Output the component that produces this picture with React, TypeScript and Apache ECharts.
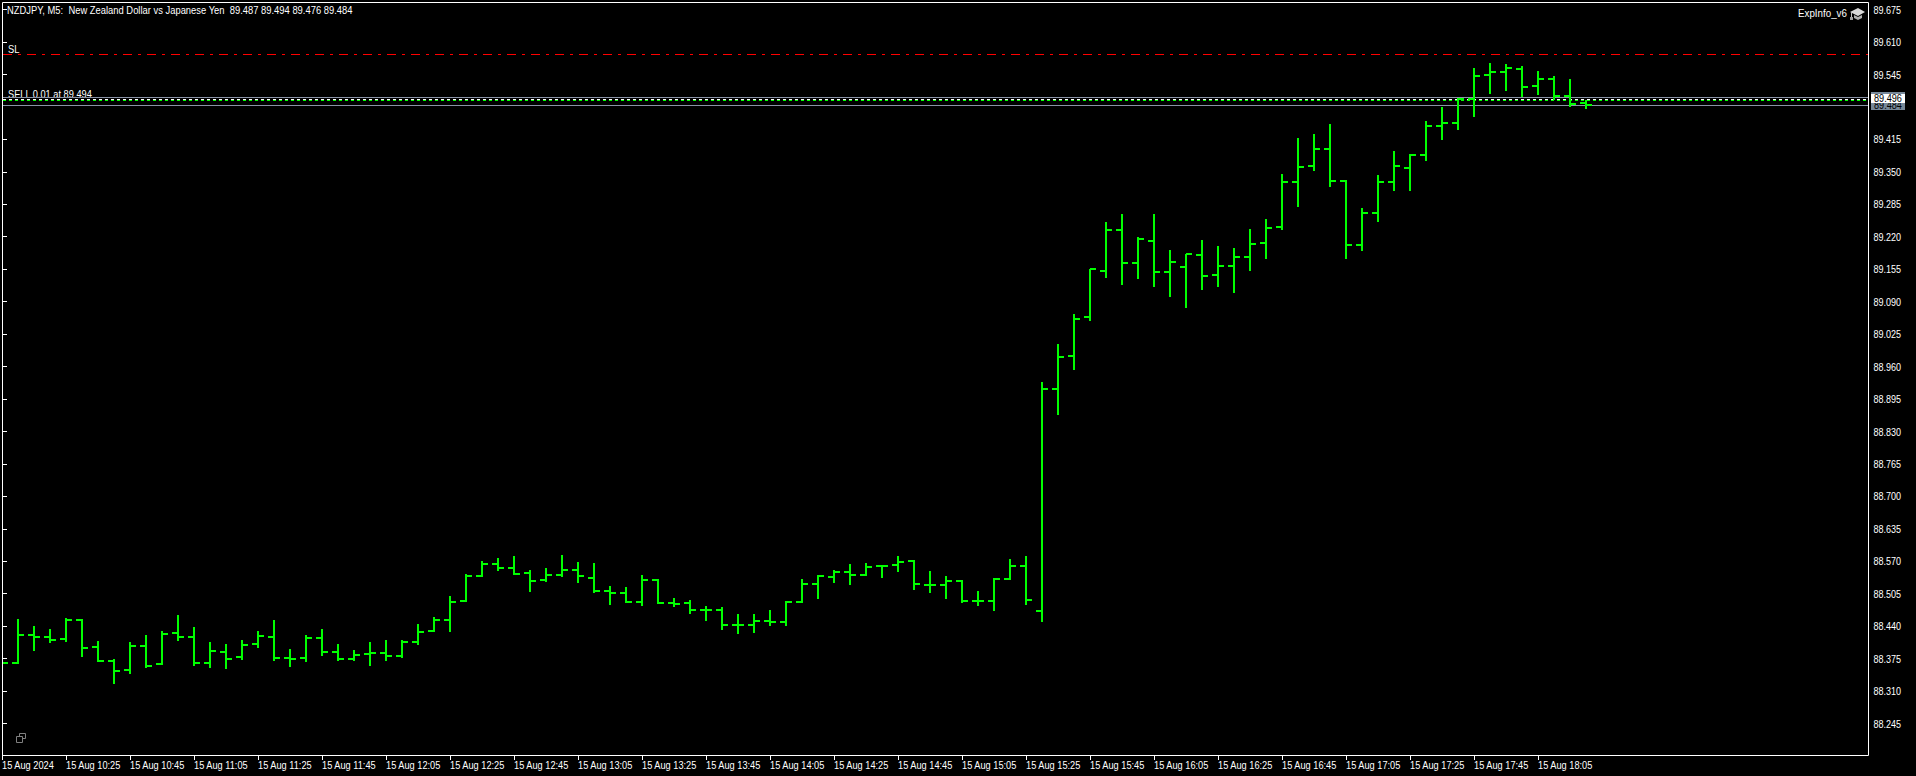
import React, { useEffect, useRef } from "react";
import * as echarts from "echarts";

const opens = [88.366,88.366,88.422,88.418,88.414,88.452,88.398,88.370,88.352,88.400,88.364,88.426,88.418,88.366,88.388,88.378,88.404,88.418,88.376,88.376,88.416,88.388,88.374,88.384,88.386,88.380,88.408,88.430,88.452,88.490,
88.540,88.564,88.556,88.546,88.532,88.542,88.552,88.536,88.510,88.506,88.488,88.532,88.486,88.486,88.472,88.472,88.442,88.442,88.450,88.448,88.488,88.524,88.538,88.548,88.542,88.560,88.562,88.570,88.522,88.522,
88.531,88.490,88.490,88.534,88.560,88.470,88.915,88.981,89.059,89.151,89.233,89.167,89.211,89.149,89.159,89.183,89.143,89.161,89.179,89.207,89.239,89.329,89.362,89.396,89.331,89.203,89.267,89.329,89.357,89.384,
89.442,89.448,89.496,89.544,89.550,89.556,89.522,89.536,89.502,89.487];
const highs = [88.372,88.454,88.440,88.434,88.456,88.454,88.410,88.374,88.408,88.422,88.430,88.462,88.438,88.408,88.404,88.412,88.430,88.452,88.394,88.422,88.434,88.404,88.392,88.408,88.412,88.412,88.444,88.458,88.500,88.544,
88.570,88.576,88.580,88.552,88.556,88.582,88.568,88.566,88.520,88.518,88.542,88.534,88.496,88.492,88.480,88.478,88.464,88.464,88.472,88.490,88.534,88.542,88.552,88.564,88.566,88.562,88.580,88.572,88.550,88.540,
88.532,88.510,88.536,88.575,88.581,88.929,89.005,89.065,89.155,89.249,89.265,89.219,89.265,89.193,89.185,89.213,89.201,89.197,89.235,89.255,89.345,89.418,89.426,89.446,89.333,89.277,89.343,89.392,89.386,89.452,
89.480,89.498,89.558,89.568,89.566,89.562,89.552,89.542,89.536,89.494];
const lows = [88.364,88.364,88.390,88.406,88.408,88.378,88.368,88.324,88.344,88.356,88.362,88.410,88.360,88.356,88.354,88.372,88.396,88.371,88.358,88.368,88.380,88.370,88.370,88.360,88.370,88.376,88.402,88.428,88.428,88.488,
88.538,88.550,88.542,88.508,88.528,88.538,88.526,88.506,88.482,88.486,88.480,88.484,88.478,88.464,88.450,88.432,88.424,88.426,88.440,88.440,88.486,88.494,88.526,88.522,88.540,88.536,88.548,88.512,88.506,88.494,
88.486,88.480,88.470,88.532,88.482,88.448,88.863,88.953,89.051,89.137,89.123,89.135,89.119,89.099,89.077,89.113,89.119,89.107,89.151,89.175,89.233,89.279,89.352,89.319,89.175,89.191,89.249,89.311,89.311,89.372,
89.414,89.434,89.460,89.506,89.512,89.500,89.504,89.494,89.480,89.476];
const closes = [88.366,88.422,88.418,88.412,88.452,88.396,88.370,88.350,88.400,88.360,88.424,88.418,88.366,88.390,88.374,88.402,88.420,88.376,88.374,88.416,88.388,88.374,88.382,88.386,88.380,88.408,88.428,88.452,88.488,88.540,
88.564,88.556,88.544,88.530,88.542,88.552,88.540,88.510,88.506,88.488,88.532,88.486,88.484,88.472,88.472,88.442,88.442,88.450,88.448,88.488,88.524,88.540,88.548,88.542,88.558,88.560,88.568,88.524,88.522,88.530,
88.490,88.490,88.534,88.560,88.492,88.915,88.979,89.055,89.155,89.233,89.167,89.215,89.149,89.169,89.185,89.141,89.161,89.179,89.205,89.237,89.329,89.360,89.396,89.331,89.203,89.267,89.329,89.362,89.384,89.442,
89.448,89.496,89.542,89.550,89.558,89.520,89.536,89.502,89.486,89.484];

const timeLabels = ["15 Aug 2024","15 Aug 10:25","15 Aug 10:45","15 Aug 11:05","15 Aug 11:25","15 Aug 11:45","15 Aug 12:05","15 Aug 12:25","15 Aug 12:45","15 Aug 13:05","15 Aug 13:25","15 Aug 13:45","15 Aug 14:05","15 Aug 14:25","15 Aug 14:45","15 Aug 15:05","15 Aug 15:25","15 Aug 15:45","15 Aug 16:05","15 Aug 16:25","15 Aug 16:45","15 Aug 17:05","15 Aug 17:25","15 Aug 17:45","15 Aug 18:05"];
const timeTicks = [0,4,8,12,16,20,24,28,32,36,40,44,48,52,56,60,64,68,72,76,80,84,88,92,96];
const priceTicks = [88.245,88.31,88.375,88.44,88.505,88.57,88.635,88.7,88.765,88.83,88.895,88.96,89.025,89.09,89.155,89.22,89.285,89.35,89.415,89.545,89.61,89.675];

const slLevel = 89.585;
const sellLevel = 89.494;
const askLevel = 89.4985;
const bidLevel = 89.483;
const bidLabel = "89.484";
const askLabel = "89.496";

const titleText = "NZDJPY, M5:  New Zealand Dollar vs Japanese Yen  89.487 89.494 89.476 89.484";
const FONT = "'Liberation Sans', Arial, sans-serif";
const FS = 11;
const GREEN = "#00ff00";
const LINE_GRAY = "#8a93a6";
const SLATE = "#778899";
const Y_MIN = 88.1819;
const Y_MAX = 89.69;

export default function App() {
  const ref = useRef<HTMLDivElement>(null);
  useEffect(() => {
    const chart = echarts.init(ref.current!, undefined, { renderer: "svg" });
    const bars = opens.map((o, i) => [i, o, highs[i], lows[i], closes[i]]);
    const levels = [
      ["sl", slLevel],
      ["ask", askLevel],
      ["sell", sellLevel],
      ["bid", bidLevel],
    ];
    const renderBar = (_: any, api: any) => {
      const i = api.value(0);
      const x = Math.round(api.coord([i, api.value(1)])[0]);
      const yO = Math.round(api.coord([i, api.value(1)])[1]);
      const yH = Math.round(api.coord([i, api.value(2)])[1]);
      const yL = Math.round(api.coord([i, api.value(3)])[1]);
      const yC = Math.round(api.coord([i, api.value(4)])[1]);
      const style = { fill: GREEN };
      return {
        type: "group",
        children: [
          { type: "rect", shape: { x: x - 1, y: yH, width: 2, height: yL - yH }, style },
          { type: "rect", shape: { x: x - 6, y: yO - 1, width: 6, height: 2 }, style },
          { type: "rect", shape: { x, y: yC - 1, width: 6, height: 2 }, style },
        ],
      };
    };
    const renderLevel = (params: any, api: any) => {
      const kind = levels[params.dataIndex][0];
      const p = api.coord([0, api.value(1)]);
      const y = Math.floor(p[1]) + 0.5;
      const x1 = p[0] + 1;
      const x2 = x1 + 1865;
      const ln = (yy: number, stroke: string, lineDash?: number[], lineDashOffset = 0) => ({
        type: "line",
        shape: { x1, y1: yy, x2, y2: yy },
        style: { stroke, lineWidth: 1, lineDash, lineDashOffset, fill: null },
      });
      if (kind === "sl") return ln(y, "#ff0000", [9, 6, 3, 6]);
      if (kind === "sell")
        return { type: "group", children: [ln(y, "#ffffff", [3, 3]), ln(y + 1, GREEN, [3, 3])] };
      return ln(y, LINE_GRAY);
    };
    const label = (t: string, x: number, y: number, fill: string, scaleX = 0.83) => ({
      type: "text",
      x,
      y,
      scaleX,
      style: { text: t, fill, font: `${FS}px ${FONT}`, textVerticalAlign: "middle", textAlign: "left" },
    });
    const renderBox = (_: any, api: any) => {
      const yB = Math.floor(api.coord([0, bidLevel])[1]);
      const yA = Math.floor(api.coord([0, askLevel])[1]);
      const x = 1871;
      return {
        type: "group",
        children: [
          { type: "rect", shape: { x, y: yB - 13, width: 34, height: 18 }, style: { fill: SLATE } },
          label(bidLabel, x + 3, yB, "#000"),
          { type: "rect", shape: { x, y: yA - 3, width: 34, height: 9 }, style: { fill: "#fff" } },
          label(askLabel, x + 3, yA + 1.5, "#000"),
        ],
      };
    };
    const renderTimeLabel = (params: any, api: any) => {
      const p = api.coord([api.value(0), Y_MIN]);
      return label(timeLabels[params.dataIndex], p[0], p[1] + 10.5, "#fff", 0.84);
    };
    const renderPriceLabel = (params: any, api: any) => {
      const p = api.coord([0, api.value(0)]);
      return label(priceTicks[params.dataIndex].toFixed(3), p[0] + 1871.5, p[1] + 0.3, "#fff", 0.82);
    };
    const text = (t: string, x: number, y: number, scaleX: number) => ({
      type: "text",
      x,
      y,
      scaleX,
      z: 1,
      style: { text: t, fill: "#fff", font: `${FS}px ${FONT}`, textVerticalAlign: "middle" },
    });
    chart.setOption({
      animation: false,
      backgroundColor: "#000",
      textStyle: { fontFamily: FONT },
      grid: { left: 2, top: 2, width: 1866, height: 753, show: false },
      xAxis: {
        type: "value",
        min: 0,
        max: 116.625,
        splitLine: { show: false },
        axisLine: { show: false },
        axisTick: { show: true, length: 5, lineStyle: { color: "#fff", width: 1 }, customValues: timeTicks },
        axisLabel: { show: false },
      },
      yAxis: {
        type: "value",
        position: "right",
        min: Y_MIN,
        max: Y_MAX,
        splitLine: { show: false },
        axisLine: { show: false },
        axisTick: { show: true, length: 5, lineStyle: { color: "#fff", width: 1 }, customValues: priceTicks },
        axisLabel: { show: false },
      },
      graphic: [
        text(titleText, 7, 10, 0.855),
        text("SL", 8, 49, 0.85),
        text("SELL 0.01 at 89.494", 8, 94, 0.84),
        { type: "rect", z: 2, shape: { x: 3, y: 97, width: 200, height: 3 }, style: { fill: "#000" } },
        text("ExpInfo_v6", 1798, 13, 0.89),
        { type: "polygon", z: 2, shape: { points: [[1850, 12], [1858, 8], [1865, 12], [1858, 16]] }, style: { fill: "#d8d8d8" } },
        { type: "polygon", z: 2, shape: { points: [[1854, 15], [1858, 17], [1862, 15], [1862, 18], [1858, 20], [1854, 18]] }, style: { fill: "#b0b0b0" } },
        { type: "rect", z: 2, shape: { x: 1851, y: 12, width: 1, height: 6 }, style: { fill: "#c0c0c0" } },
        { type: "rect", z: 2, shape: { x: 1850, y: 17, width: 3, height: 3 }, style: { fill: "#a0a0a0" } },
        { type: "rect", z: 2, shape: { x: 19.5, y: 733.5, width: 6, height: 5 }, style: { fill: "none", stroke: "#808080", lineWidth: 1 } },
        { type: "rect", z: 3, shape: { x: 16.5, y: 736.5, width: 6, height: 6 }, style: { fill: "#000", stroke: "#808080", lineWidth: 1 } },
        { type: "rect", z: 10, shape: { x: 2.5, y: 2.5, width: 1866, height: 753 }, style: { fill: "none", stroke: "#fff", lineWidth: 1 } },
      ],
      series: [
        {
          type: "custom",
          name: "levels",
          z: 3,
          clip: true,
          coordinateSystem: "cartesian2d",
          data: levels.map((l, i) => [i, l[1]]),
          encode: { x: 0, y: 1 },
          renderItem: renderLevel,
        },
        {
          type: "custom",
          name: "NZDJPY",
          z: 4,
          clip: true,
          coordinateSystem: "cartesian2d",
          data: bars,
          encode: { x: 0, y: [1, 2, 3, 4] },
          renderItem: renderBar,
        },
        {
          type: "custom",
          name: "timeLabels",
          z: 5,
          clip: false,
          coordinateSystem: "cartesian2d",
          data: timeTicks.map((t) => [t, Y_MIN]),
          encode: { x: 0, y: 1 },
          renderItem: renderTimeLabel,
        },
        {
          type: "custom",
          name: "priceLabels",
          z: 5,
          clip: false,
          coordinateSystem: "cartesian2d",
          data: priceTicks.map((p) => [p]),
          encode: { y: 0 },
          renderItem: renderPriceLabel,
        },
        {
          type: "custom",
          name: "priceBox",
          z: 20,
          clip: false,
          coordinateSystem: "cartesian2d",
          data: [[0, askLevel]],
          encode: { x: 0, y: 1 },
          renderItem: renderBox,
        },
      ],
    });
    return () => chart.dispose();
  }, []);
  return <div ref={ref} style={{ position: "absolute", left: 0, top: 0, width: 1916, height: 776, background: "#000" }} />;
}
